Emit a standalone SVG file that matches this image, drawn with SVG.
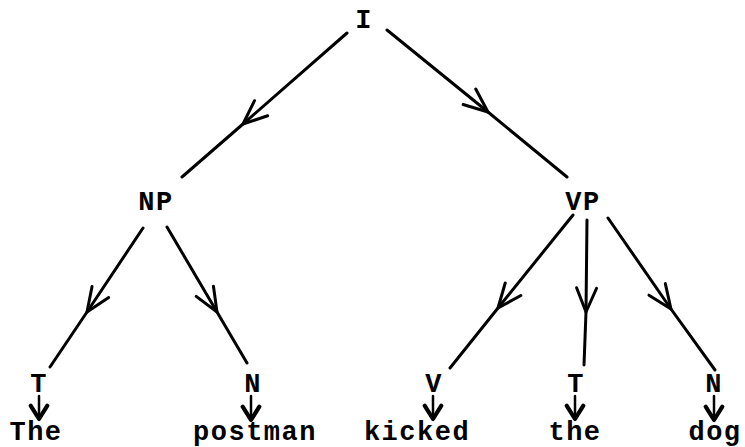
<svg xmlns="http://www.w3.org/2000/svg" width="745" height="447" viewBox="0 0 745 447">
  <defs>
    <style>
      .lbl { font-family: "Liberation Mono", "Courier New", monospace; font-weight: bold; font-size: 27px; letter-spacing: 1.5px; fill: #000; text-anchor: middle; }
      .edge { fill: none; stroke: #000; stroke-width: 3; stroke-linecap: round; stroke-linejoin: round; marker-mid: url(#vhead); }
      .leaf { fill: none; stroke: #000; stroke-width: 2.5; stroke-linecap: round; marker-end: url(#vsmall); }
    </style>
    <!-- open V head placed at the middle vertex of each branch -->
    <marker id="vhead" markerUnits="userSpaceOnUse" markerWidth="40" markerHeight="40" viewBox="-30 -15 40 30" refX="0" refY="0" orient="auto" overflow="visible">
      <path d="M -24 -10 L 0 0 L -24 10" fill="none" stroke="#000" stroke-width="3" stroke-linecap="round" stroke-linejoin="round"/>
    </marker>
    <marker id="vsmall" markerUnits="userSpaceOnUse" markerWidth="20" markerHeight="20" viewBox="-10 -6 12 12" refX="0" refY="0" orient="auto" overflow="visible">
      <path d="M -8 -5 L 0 0 L -8 5" fill="none" stroke="#000" stroke-width="2.5" stroke-linecap="round" stroke-linejoin="round"/>
    </marker>
  </defs>

  <g id="connectors">
    <path class="edge" d="M 347 33 L 243 124 L 182 177"/>
    <path class="edge" d="M 387 30 L 488 112 L 567 177"/>
    <path class="edge" d="M 143 228 L 87 312 L 50 367"/>
    <path class="edge" d="M 167 227 L 217 312 L 247 363"/>
    <path class="edge" d="M 573 215 L 498 308 L 450 368"/>
    <path class="edge" d="M 587 220 L 586 312 L 584 365"/>
    <path class="edge" d="M 608 218 L 671 309 L 715 370"/>
    <path class="leaf" d="M 39 396 L 39 419"/>
    <path class="leaf" d="M 251 396 L 251 420"/>
    <path class="leaf" d="M 433 396 L 433 419"/>
    <path class="leaf" d="M 575 396 L 575 419"/>
    <path class="leaf" d="M 714 396 L 714 420"/>
  </g>

  <g id="node-I"><text class="lbl" x="364" y="28">I</text></g>
  <g id="node-NP"><text class="lbl" x="156" y="210">NP</text></g>
  <g id="node-VP"><text class="lbl" x="583" y="210">VP</text></g>
  <g id="node-T1"><text class="lbl" x="39" y="392">T</text></g>
  <g id="node-N1"><text class="lbl" x="253" y="392">N</text></g>
  <g id="node-V"><text class="lbl" x="434" y="392">V</text></g>
  <g id="node-T2"><text class="lbl" x="576" y="392">T</text></g>
  <g id="node-N2"><text class="lbl" x="714" y="392">N</text></g>
  <g id="word-The"><text class="lbl" x="36" y="440">The</text></g>
  <g id="word-postman"><text class="lbl" x="255" y="440">postman</text></g>
  <g id="word-kicked"><text class="lbl" x="417" y="440">kicked</text></g>
  <g id="word-the"><text class="lbl" x="575" y="440">the</text></g>
  <g id="word-dog"><text class="lbl" x="715" y="440">dog</text></g>
</svg>
